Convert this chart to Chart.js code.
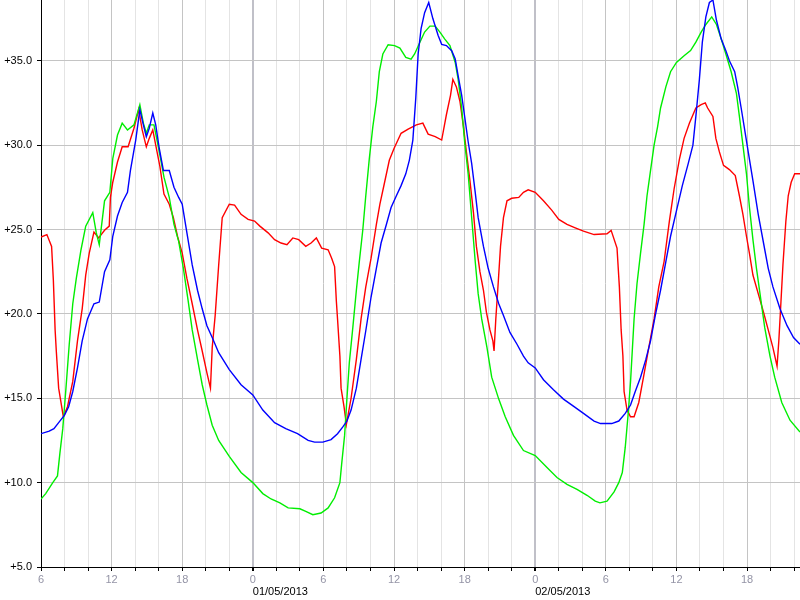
<!DOCTYPE html>
<html>
<head>
<meta charset="utf-8">
<script src="https://cdn.jsdelivr.net/npm/chart.js@4.4.1/dist/chart.umd.min.js"></script>
<style>
  html, body { margin: 0; padding: 0; background: #fff; }
</style>
</head>
<body>
<canvas id="tempChart" width="800" height="600"></canvas>
<script>
// hours counted from 06:00 on 30/04/2013
const redHours = [0, 0.5, 0.9, 1.05, 1.2, 1.3, 1.5, 1.9, 2.25, 2.7, 3.1, 3.5, 3.8, 4.1, 4.5, 4.9, 5.4, 5.8, 5.9, 6.1, 6.5, 6.9, 7.4, 7.9, 8.3, 8.6, 8.95, 9.2, 9.5, 9.75, 10.1, 10.45, 10.9, 11.25, 11.6, 12, 12.4, 12.85, 13.3, 13.7, 14.1, 14.4, 14.55, 14.8, 15.1, 15.4, 16.0, 16.45, 17.0, 17.6, 18.15, 18.6, 19.3, 19.85, 20.4, 20.9, 21.4, 21.9, 22.5, 22.95, 23.4, 23.85, 24.4, 24.7, 24.95, 25.1, 25.2, 25.4, 25.5, 25.75, 25.95, 26.35, 26.8, 27.2, 27.6, 28.05, 28.5, 28.8, 29.2, 29.6, 30.0, 30.6, 31.2, 31.9, 32.45, 32.9, 33.5, 34.05, 34.45, 34.8, 35.0, 35.3, 35.6, 35.9, 36.15, 36.45, 36.75, 37.0, 37.3, 37.6, 37.85, 38.15, 38.4, 38.5, 38.65, 38.85, 39.05, 39.3, 39.6, 40.0, 40.6, 41.0, 41.4, 42, 42.7, 43.4, 44.0, 44.7, 45.4, 46.1, 47.0, 48.1, 48.45, 48.95, 49.15, 49.3, 49.45, 49.55, 49.8, 50.1, 50.4, 50.8, 51.2, 51.65, 52.1, 52.5, 52.95, 53.4, 53.8, 54.25, 54.65, 55.1, 55.65, 56.1, 56.45, 56.65, 57.1, 57.35, 57.65, 58.0, 58.5, 59.0, 59.35, 59.65, 59.95, 60.2, 60.5, 60.95, 61.4, 61.8, 62.2, 62.55, 62.7, 62.85, 63.05, 63.3, 63.5, 63.75, 64.05, 64.5];
const redTemps = [24.55, 24.7, 24.0, 22.0, 19.05, 17.8, 15.6, 13.9, 14.5, 16.0, 18.4, 20.3, 22.3, 23.6, 24.85, 24.5, 24.95, 25.2, 26.9, 27.8, 29.0, 29.9, 29.9, 31.0, 32.1, 30.9, 29.9, 30.4, 30.9, 30.0, 28.75, 27.1, 26.5, 25.7, 24.6, 23.6, 22.1, 20.6, 19.05, 17.8, 16.5, 15.6, 18.0, 19.9, 22.9, 25.7, 26.5, 26.45, 25.9, 25.6, 25.5, 25.2, 24.8, 24.4, 24.2, 24.1, 24.5, 24.4, 24.0, 24.2, 24.5, 23.9, 23.8, 23.3, 22.8, 20.75, 19.7, 17.5, 15.6, 14.5, 13.45, 15.0, 17.3, 19.7, 21.6, 23.3, 25.3, 26.5, 27.8, 29.1, 29.8, 30.7, 30.95, 31.2, 31.3, 30.65, 30.5, 30.3, 31.8, 32.95, 33.9, 33.45, 32.6, 31.1, 29.6, 27.9, 26.0, 24.0, 22.5, 21.4, 20.1, 19.05, 18.4, 17.8, 19.7, 21.8, 24.0, 25.7, 26.7, 26.85, 26.9, 27.2, 27.35, 27.2, 26.7, 26.15, 25.6, 25.3, 25.1, 24.9, 24.7, 24.75, 24.95, 23.9, 21.6, 19.05, 17.5, 15.4, 14.3, 13.9, 13.9, 14.75, 16.25, 18.0, 19.7, 21.6, 23.1, 25.5, 27.4, 29.15, 30.4, 31.3, 32.2, 32.4, 32.5, 32.2, 31.7, 30.4, 29.6, 28.8, 28.55, 28.2, 27.0, 25.9, 24.6, 23.6, 22.3, 21.2, 20.1, 19.05, 18.0, 16.9, 18.4, 20.3, 22.9, 25.5, 27.0, 27.8, 28.3, 28.3];

const greenHours = [0, 0.4, 1.0, 1.4, 1.6, 1.85, 2.1, 2.4, 2.7, 3.0, 3.4, 3.8, 4.4, 4.7, 4.95, 5.4, 5.85, 6.1, 6.5, 6.9, 7.35, 7.9, 8.4, 8.7, 8.95, 9.2, 9.6, 10.0, 10.45, 10.9, 11.3, 11.7, 12.1, 12.5, 12.85, 13.3, 13.7, 14.1, 14.55, 15.1, 16.0, 17.0, 18, 18.85, 19.55, 20.3, 21.0, 22.0, 22.5, 23.1, 23.8, 24.4, 24.95, 25.4, 25.55, 25.8, 26.0, 26.2, 26.5, 26.8, 27.05, 27.35, 27.6, 27.9, 28.2, 28.5, 28.75, 29.05, 29.5, 30.05, 30.5, 31.0, 31.45, 31.75, 32.2, 32.6, 33.05, 33.5, 33.9, 34.3, 34.75, 35.2, 35.45, 35.75, 36.0, 36.3, 36.6, 36.9, 37.15, 37.45, 37.9, 38.3, 38.9, 39.45, 40.15, 41.0, 42, 43.0, 43.85, 44.7, 45.55, 46.4, 47.1, 47.5, 48.1, 48.7, 49.1, 49.4, 49.65, 49.9, 50.1, 50.4, 50.65, 50.95, 51.25, 51.5, 51.8, 52.1, 52.4, 52.65, 53.1, 53.5, 54, 54.65, 55.2, 55.65, 56.1, 56.5, 57.0, 57.4, 57.8, 58.2, 58.65, 59.1, 59.35, 59.65, 59.95, 60.2, 60.5, 60.8, 61.1, 61.5, 61.95, 62.35, 62.95, 63.65, 64.5];
const greenTemps = [9.03, 9.35, 10.0, 10.4, 11.7, 13.2, 15.4, 18.2, 20.6, 22.1, 23.8, 25.2, 26.0, 24.8, 24.1, 26.7, 27.2, 29.2, 30.6, 31.3, 30.9, 31.2, 32.4, 31.3, 30.7, 31.2, 31.2, 29.8, 28.1, 26.9, 25.3, 24.3, 22.7, 20.8, 19.05, 17.3, 15.8, 14.6, 13.4, 12.5, 11.55, 10.6, 10.0, 9.35, 9.03, 8.8, 8.5, 8.45, 8.3, 8.1, 8.2, 8.5, 9.1, 10.0, 11.1, 12.8, 15.0, 17.1, 19.2, 21.4, 23.1, 25.0, 27.0, 29.2, 31.1, 32.6, 34.35, 35.4, 35.95, 35.9, 35.75, 35.2, 35.1, 35.4, 36.1, 36.7, 37.05, 37.05, 36.7, 36.3, 35.9, 34.9, 33.9, 32.2, 30.2, 28.3, 25.7, 23.1, 21.2, 19.7, 18.0, 16.25, 14.95, 13.9, 12.8, 11.9, 11.6, 10.9, 10.3, 9.9, 9.6, 9.25, 8.9, 8.8, 8.9, 9.45, 10.0, 10.6, 12.1, 14.1, 16.0, 19.7, 21.8, 23.6, 25.3, 27.0, 28.5, 30.0, 31.1, 32.2, 33.45, 34.35, 34.9, 35.3, 35.6, 36.1, 36.7, 37.15, 37.6, 37.15, 36.3, 35.4, 34.35, 33.05, 31.7, 30.0, 28.3, 26.35, 24.4, 22.7, 21.2, 19.2, 17.5, 16.25, 14.75, 13.7, 13.0];

const blueHours = [0, 0.7, 1.1, 1.55, 2.0, 2.35, 2.7, 3.1, 3.5, 3.95, 4.5, 4.95, 5.4, 5.85, 6.1, 6.5, 6.9, 7.35, 7.6, 8.05, 8.4, 8.7, 8.95, 9.2, 9.5, 9.75, 10.05, 10.4, 10.9, 11.3, 11.7, 12, 12.4, 12.85, 13.3, 13.7, 14.1, 14.55, 15.1, 16.0, 17.0, 18, 18.85, 19.85, 20.8, 21.8, 22.7, 23.25, 23.95, 24.65, 25.2, 25.65, 26.0, 26.35, 26.8, 27.2, 27.6, 28.05, 28.5, 28.9, 29.35, 29.75, 30.2, 30.6, 31.0, 31.3, 31.6, 31.85, 32.05, 32.3, 32.6, 32.95, 33.3, 33.75, 34.05, 34.45, 34.9, 35.2, 35.45, 35.75, 36.0, 36.3, 36.6, 36.9, 37.15, 37.6, 38.0, 38.45, 38.9, 39.3, 39.85, 40.45, 41.0, 41.4, 42, 42.7, 43.55, 44.4, 45.3, 46.1, 47.0, 47.55, 48.5, 49.1, 49.65, 50.1, 50.5, 50.95, 51.4, 51.8, 52.2, 52.65, 53.1, 53.5, 54, 54.5, 55.0, 55.4, 55.65, 55.95, 56.2, 56.5, 56.8, 57.1, 57.4, 57.8, 58.2, 58.5, 58.95, 59.2, 59.5, 59.8, 60.1, 60.5, 60.95, 61.4, 61.8, 62.2, 62.8, 63.4, 63.95, 64.5];
const blueTemps = [12.9, 13.05, 13.2, 13.6, 14.0, 14.5, 15.4, 16.8, 18.4, 19.7, 20.6, 20.7, 22.5, 23.2, 24.6, 25.8, 26.6, 27.2, 28.5, 30.3, 32.1, 31.2, 30.5, 31.0, 31.9, 31.2, 29.8, 28.5, 28.5, 27.5, 26.9, 26.5, 24.8, 22.9, 21.4, 20.3, 19.3, 18.6, 17.7, 16.7, 15.8, 15.2, 14.3, 13.55, 13.2, 12.9, 12.5, 12.4, 12.4, 12.55, 12.9, 13.3, 13.65, 14.3, 15.6, 17.3, 19.0, 21.0, 22.7, 24.2, 25.3, 26.3, 27.0, 27.6, 28.3, 29.1, 30.3, 32.8, 35.4, 36.9, 37.85, 38.45, 37.5, 36.5, 35.97, 35.9, 35.6, 35.1, 34.1, 32.95, 31.7, 30.2, 28.9, 27.2, 25.7, 24.0, 22.7, 21.6, 20.6, 19.9, 18.9, 18.2, 17.5, 17.1, 16.8, 16.1, 15.5, 14.95, 14.5, 14.1, 13.65, 13.5, 13.5, 13.65, 14.1, 14.6, 15.4, 16.25, 17.3, 18.4, 19.9, 21.4, 23.1, 24.6, 26.1, 27.6, 28.9, 30.0, 31.7, 33.9, 36.1, 37.6, 38.45, 38.6, 37.4, 36.3, 35.6, 35.0, 34.35, 33.45, 32.2, 30.9, 29.6, 27.9, 25.9, 24.2, 22.7, 21.6, 20.3, 19.3, 18.6, 18.2];

const midnightHours = [18, 42];
const dateLabels = ['01/05/2013', '02/05/2013'];

const fontFamily = '"Liberation Sans", Arial, sans-serif';

function toPoints(hours, temps) {
    return hours.map((h, i) => ({ x: h, y: temps[i] }));
}

// date text under the midnight ticks, left aligned on the tick
const dateLabelPlugin = {
    id: 'dateLabels',
    afterDraw(chart) {
        const xScale = chart.scales.x;
        const c = chart.ctx;
        c.save();
        c.font = '11px ' + fontFamily;
        c.fillStyle = '#000';
        c.textAlign = 'left';
        c.textBaseline = 'middle';
        midnightHours.forEach((h, i) => {
            c.fillText(dateLabels[i], xScale.getPixelForValue(h), 592);
        });
        c.restore();
    }
};

// no extra room for end labels: plot runs to the canvas edges
function noPadding(s) {
    s.paddingTop = 0;
    s.paddingBottom = 0;
    s.paddingLeft = 0;
    s.paddingRight = 0;
}

const ctx = document.getElementById('tempChart').getContext('2d');

const tempChart = new Chart(ctx, {
    type: 'line',
    data: {
        datasets: [
            { data: toPoints(blueHours, blueTemps), borderColor: '#0000ff' },
            { data: toPoints(greenHours, greenTemps), borderColor: '#00ee00' },
            { data: toPoints(redHours, redTemps), borderColor: '#ff0000' }
        ]
    },
    options: {
        responsive: false,
        animation: false,
        layout: { padding: 0, autoPadding: false },
        elements: {
            point: { radius: 0, hoverRadius: 0 },
            line: { tension: 0, borderWidth: 1.4, fill: false }
        },
        plugins: {
            legend: { display: false },
            tooltip: { enabled: false }
        },
        scales: {
            x: {
                type: 'linear',
                min: 0,
                max: 64.5,
                afterFit: s => { s.height = 33; noPadding(s); },
                border: { color: '#000', width: 1 },
                grid: {
                    color: c => {
                        const v = c.tick.value;
                        if (v % 24 === 18) return '#c0c0c8';
                        if (v % 6 === 0) return '#c4c4c4';
                        return '#e4e4e4';
                    },
                    lineWidth: c => (c.tick.value % 24 === 18 ? 2 : 1),
                    tickColor: '#000',
                    tickLength: 4
                },
                ticks: {
                    stepSize: 2,
                    includeBounds: false,
                    autoSkip: false,
                    maxRotation: 0,
                    padding: 2,
                    color: '#9494a6',
                    font: { family: fontFamily, size: 11 },
                    callback: v => (v % 6 === 0 ? String((v + 6) % 24) : '')
                }
            },
            y: {
                min: 5,
                max: 38.6,
                afterFit: s => { s.width = 41; noPadding(s); },
                border: { color: '#000', width: 1 },
                grid: {
                    color: '#c4c4c4',
                    tickColor: '#000',
                    tickLength: 4
                },
                ticks: {
                    stepSize: 5,
                    includeBounds: false,
                    padding: 5,
                    color: '#000',
                    font: { family: fontFamily, size: 11 },
                    callback: v => '+' + v.toFixed(1)
                }
            }
        }
    },
    plugins: [dateLabelPlugin]
});
</script>
</body>
</html>
